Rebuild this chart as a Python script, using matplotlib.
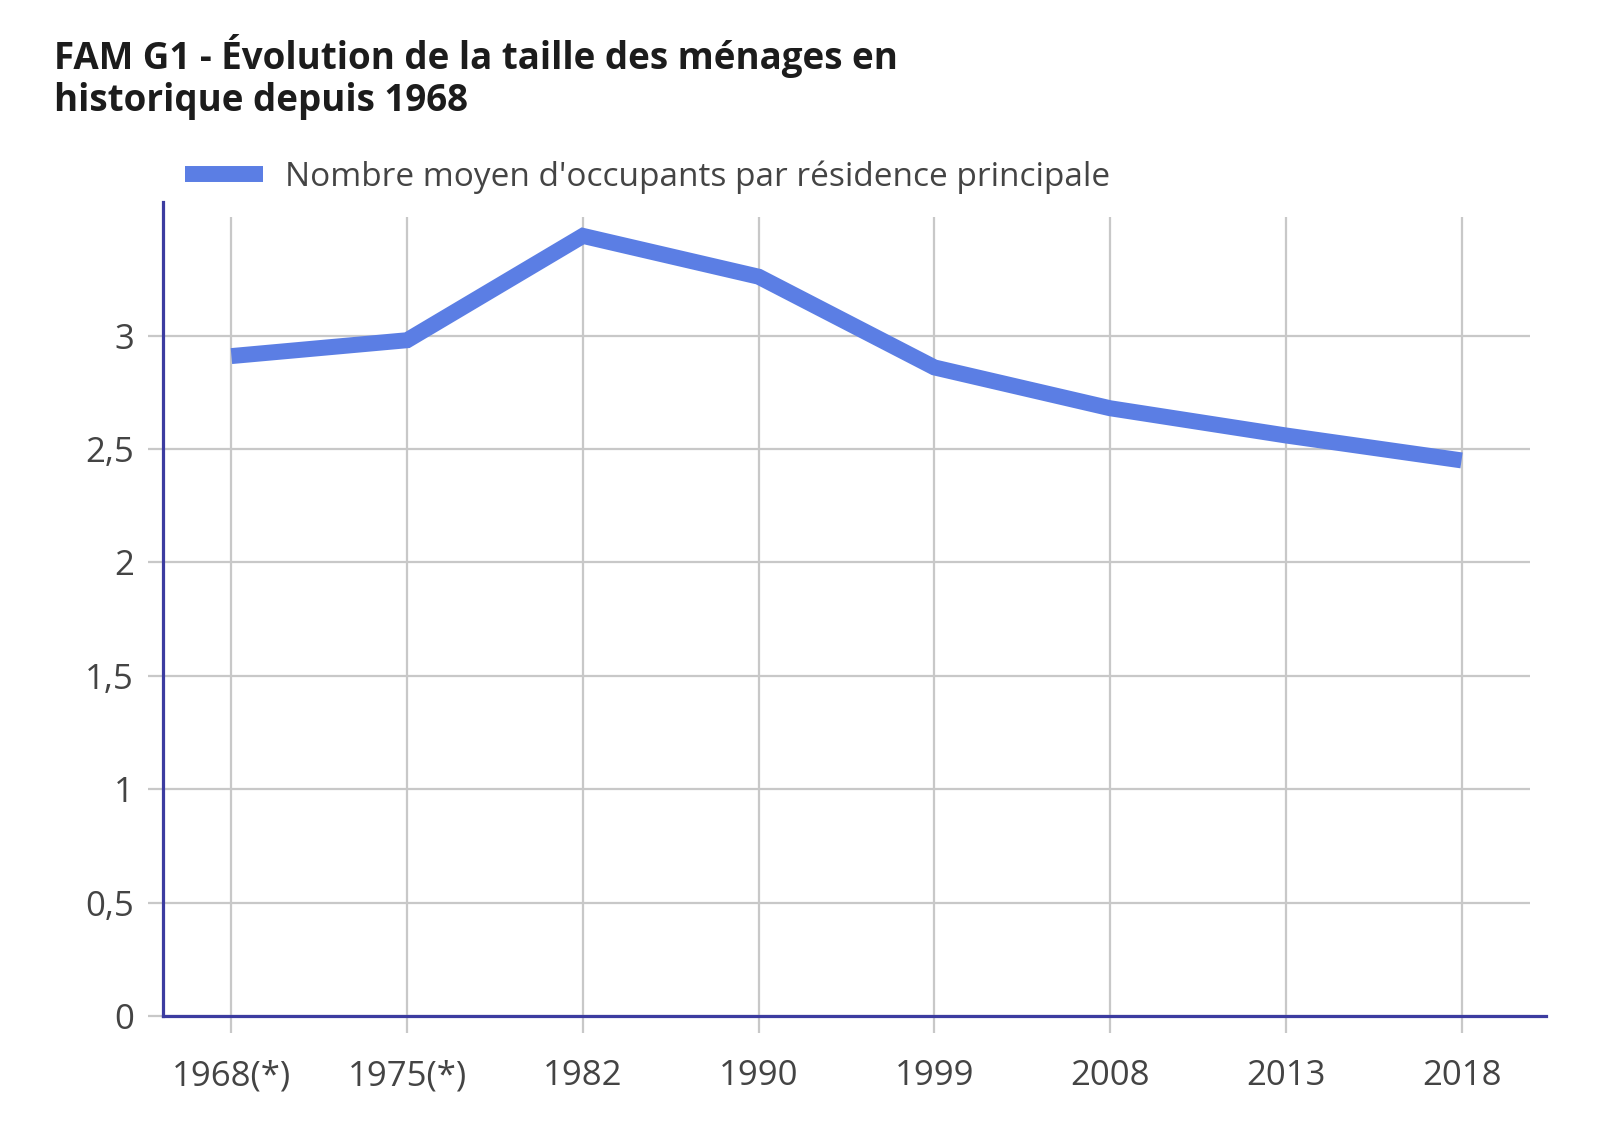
import matplotlib.pyplot as plt
from matplotlib.lines import Line2D

# Données
annees = ["1968(*)", "1975(*)", "1982", "1990", "1999", "2008", "2013", "2018"]
occupants = [2.91, 2.98, 3.44, 3.26, 2.86, 2.68, 2.56, 2.45]
graduations = [0, 0.5, 1, 1.5, 2, 2.5, 3]
etiquettes_y = ["0", "0,5", "1", "1,5", "2", "2,5", "3"]

plt.rcParams['font.family'] = ['Open Sans', 'DejaVu Sans']

fig = plt.figure(figsize=(15.97, 11.34), dpi=100)
ax = fig.add_axes([0.102, 0.104, 0.866, 0.718])

x = list(range(len(annees)))
ax.set_xlim(-0.39, len(annees) - 1 + 0.48)
ax.set_ylim(0, 3.59)

# Grille dessinée à la main pour reproduire les débordements
ax.hlines(graduations, -0.475, len(annees) - 1 + 0.39, color="#c8c8c8", lw=1.6, clip_on=False, zorder=1)
ax.vlines(x, -0.075, 3.525, color="#c8c8c8", lw=1.6, clip_on=False, zorder=1)

ax.plot(x, occupants, color="#5b7ee4", lw=11.5, solid_joinstyle="miter", solid_capstyle="butt", zorder=3)

for s in ["top", "right"]:
    ax.spines[s].set_visible(False)
for s in ["left", "bottom"]:
    ax.spines[s].set_color("#3c3ca0")
    ax.spines[s].set_linewidth(2.3)
    ax.spines[s].set_zorder(4)

ax.set_xticks(x)
ax.set_xticklabels(annees)
ax.set_yticks(graduations)
ax.set_yticklabels(etiquettes_y)
ax.tick_params(length=0, labelsize=25, labelcolor="#444444")
ax.tick_params(axis="x", pad=31)
ax.tick_params(axis="y", pad=21)

fig.text(0.034, 0.97, "FAM G1 - Évolution de la taille des ménages en\nhistorique depuis 1968",
         fontsize=26.5, fontweight="bold", color="#1c1c1c", va="top", ha="left", linespacing=1.15)

poignee = Line2D([0], [0], color="#5b7ee4", lw=11.5, solid_capstyle="butt")
fig.legend([poignee], ["Nombre moyen d'occupants par résidence principale"],
           loc="upper left", bbox_to_anchor=(0.097, 0.885), frameon=False,
           fontsize=24, handlelength=2.34, handletextpad=0.67, labelcolor="#444444")

fig.savefig("out.png", dpi=100)
